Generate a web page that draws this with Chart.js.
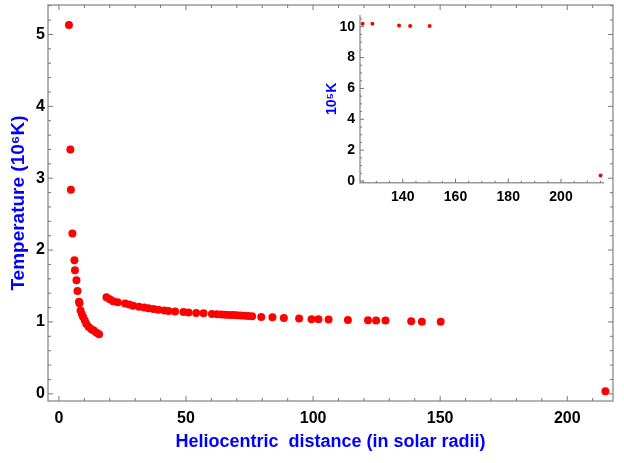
<!DOCTYPE html>
<html>
<head>
<meta charset="utf-8">
<script src="https://cdn.jsdelivr.net/npm/chart.js@4.4.1/dist/chart.umd.min.js"></script>
<style>
    body { margin: 0; background: #fff; }
    #contenedor { position: relative; width: 624px; height: 463px; }
    #grafico-principal { position: absolute; left: 0; top: 0; }
    #grafico-inset { position: absolute; left: 300px; top: 0; }
</style>
</head>
<body>
<div id="contenedor">
    <canvas id="grafico-principal" width="624" height="463"></canvas>
    <canvas id="grafico-inset" width="324" height="210"></canvas>
</div>
<script>
// rama interna (cerca del Sol)
const distInterna = [3.95, 4.5, 4.7, 5.3, 6.1, 6.3, 6.9, 7.3, 7.9, 8.1, 8.5, 9.0, 9.5, 10.2, 10.8, 11.7, 12.8, 13.7, 14.8, 15.8];
const tempInterna = [5.13, 3.40, 2.84, 2.23, 1.86, 1.72, 1.58, 1.43, 1.28, 1.26, 1.16, 1.11, 1.07, 1.02, 0.97, 0.93, 0.90, 0.88, 0.85, 0.83];

// rama externa (hasta 1 UA)
const distExterna = [18.7, 20.0, 21.3, 23.1, 26.0, 27.7, 29.2, 31.5, 33.6, 35.2, 37.2, 39.1, 41.5, 43.1, 45.7,
    49.0, 51.0, 54.0, 56.9, 60.2, 62.2, 64.0, 65.5, 67.0, 68.5, 70.0, 71.5, 73.0, 74.5, 76.0,
    79.6, 84.0, 88.5, 94.5, 99.4, 102.1, 106.1, 113.7, 121.6, 124.8, 128.5, 138.6, 142.8, 150.2, 215.0];
const tempExterna = [1.344, 1.316, 1.289, 1.275, 1.255, 1.241, 1.227, 1.213, 1.200, 1.191, 1.180, 1.168, 1.158, 1.154, 1.144,
    1.140, 1.130, 1.126, 1.122, 1.112, 1.108, 1.104, 1.100, 1.098, 1.095, 1.093, 1.090, 1.086, 1.082, 1.078,
    1.070, 1.065, 1.056, 1.047, 1.038, 1.038, 1.033, 1.028, 1.022, 1.019, 1.019, 1.008, 1.004, 1.004, 0.035];

const ticksX = [0, 50, 100, 150, 200];
const ticksY = [0, 1, 2, 3, 4, 5];
const ticksXInset = [140, 160, 180, 200];
const ticksYInset = [0, 2, 4, 6, 8, 10];

const rojo = '#ff0000';
const azul = '#0000ff';
const gris = '#9a9a9a';
const fuente = '"Liberation Sans", Arial, sans-serif';

function puntos(xs, ys, factor) {
    return xs.map((x, i) => ({ x: x, y: ys[i] * factor }));
}

// marco y marcas hacia adentro, estilo Mathematica
const marcoTicks = {
    id: 'marcoTicks',
    afterDraw(chart, args, opts) {
        const ctx = chart.ctx;
        const a = chart.chartArea;
        const sx = chart.scales.x;
        const sy = chart.scales.y;
        ctx.save();
        ctx.strokeStyle = gris;
        ctx.lineWidth = 1.5;
        ctx.beginPath();
        if (opts.caja) {
            ctx.rect(a.left, a.top, a.right - a.left, a.bottom - a.top);
        } else {
            ctx.moveTo(a.left, a.top);
            ctx.lineTo(a.left, a.bottom);
            ctx.lineTo(a.right, a.bottom);
        }
        ctx.stroke();

        ctx.lineWidth = 1;
        ctx.strokeStyle = '#777';
        ctx.beginPath();
        const marcar = (escala, paso, mayor, dibujar) => {
            const i0 = Math.ceil(escala.min / paso - 1e-9);
            const i1 = Math.floor(escala.max / paso + 1e-9);
            for (let i = i0; i <= i1; i++) {
                const v = i * paso;
                const esMayor = Math.abs(v / mayor - Math.round(v / mayor)) < 1e-6;
                dibujar(escala.getPixelForValue(v), esMayor ? opts.largo : opts.corto);
            }
        };
        marcar(sx, opts.pasoX, opts.mayorX, (px, l) => {
            ctx.moveTo(px, a.bottom); ctx.lineTo(px, a.bottom - l);
            if (opts.caja) { ctx.moveTo(px, a.top); ctx.lineTo(px, a.top + l); }
        });
        marcar(sy, opts.pasoY, opts.mayorY, (py, l) => {
            ctx.moveTo(a.left, py); ctx.lineTo(a.left + l, py);
            if (opts.caja) { ctx.moveTo(a.right, py); ctx.lineTo(a.right - l, py); }
        });
        ctx.stroke();
        ctx.restore();
    }
};

function escala(min, max, paso, lista, tam, padding, ajuste) {
    return {
        type: 'linear',
        min: min,
        max: max,
        grid: { display: false, drawTicks: false },
        border: { display: false },
        ticks: {
            stepSize: paso,
            includeBounds: false,
            padding: padding,
            color: '#000',
            font: { family: fuente, size: tam, weight: 'bold' },
            callback: v => lista.includes(v) ? String(v) : null
        },
        afterFit: s => {
            ajuste(s);
            // sin relleno extra por las etiquetas de los extremos
            s.paddingTop = 0;
            s.paddingBottom = 0;
            s.paddingLeft = 0;
            s.paddingRight = 0;
        }
    };
}

// grafico principal
const ejeX = escala(-4.3, 218, 50, ticksX, 16, 8, s => { s.height = 62; });
ejeX.title = {
    display: true,
    text: 'Heliocentric  distance (in solar radii)',
    color: azul,
    font: { family: fuente, size: 18, weight: 'bold' },
    padding: { top: 0, bottom: 10 }
};
const ejeY = escala(-0.1, 5.41, 1, ticksY, 16, 3, s => { s.width = 48; });
ejeY.title = {
    display: true,
    text: 'Temperature (10\u2076K)',
    color: azul,
    font: { family: fuente, size: 19, weight: 'bold' },
    padding: { top: 7, bottom: 0 }
};

new Chart(document.getElementById('grafico-principal'), {
    type: 'scatter',
    data: {
        datasets: [
            { data: puntos(distInterna, tempInterna, 1), backgroundColor: rojo, borderWidth: 0, pointRadius: 4 },
            { data: puntos(distExterna, tempExterna, 1), backgroundColor: rojo, borderWidth: 0, pointRadius: 4 }
        ]
    },
    options: {
        responsive: false,
        animation: false,
        layout: { padding: { top: 5, right: 11, left: 0, bottom: 0 } },
        plugins: {
            legend: { display: false },
            tooltip: { enabled: false },
            marcoTicks: { caja: true, pasoX: 10, mayorX: 50, pasoY: 0.2, mayorY: 1, largo: 5, corto: 3 }
        },
        scales: { x: ejeX, y: ejeY }
    },
    plugins: [marcoTicks]
});

// recuadro: tramo final en 10^5 K
const lejanos = distExterna.map((d, i) => ({ d: d, t: tempExterna[i] })).filter(p => p.d > 122);
const ejeXInset = escala(123.8, 216.3, 20, ticksXInset, 14, 6, s => { s.height = 27.3; });
const ejeYInset = escala(-0.11, 10.76, 2, ticksYInset, 14, 5, s => { s.width = 60; });
ejeYInset.title = {
    display: true,
    text: '10\u2075K',
    color: azul,
    font: { family: fuente, size: 14, weight: 'bold' },
    padding: { top: 24, bottom: 0 }
};

new Chart(document.getElementById('grafico-inset'), {
    type: 'scatter',
    data: {
        datasets: [{
            data: puntos(lejanos.map(p => p.d), lejanos.map(p => p.t), 10),
            backgroundColor: rojo,
            borderWidth: 0,
            pointRadius: 2
        }]
    },
    options: {
        responsive: false,
        animation: false,
        layout: { padding: { top: 15, right: 20, left: 0, bottom: 0 } },
        plugins: {
            legend: { display: false },
            tooltip: { enabled: false },
            marcoTicks: { caja: false, pasoX: 5, mayorX: 20, pasoY: 0.5, mayorY: 2, largo: 4, corto: 2 }
        },
        scales: { x: ejeXInset, y: ejeYInset }
    },
    plugins: [marcoTicks]
});
</script>
</body>
</html>
